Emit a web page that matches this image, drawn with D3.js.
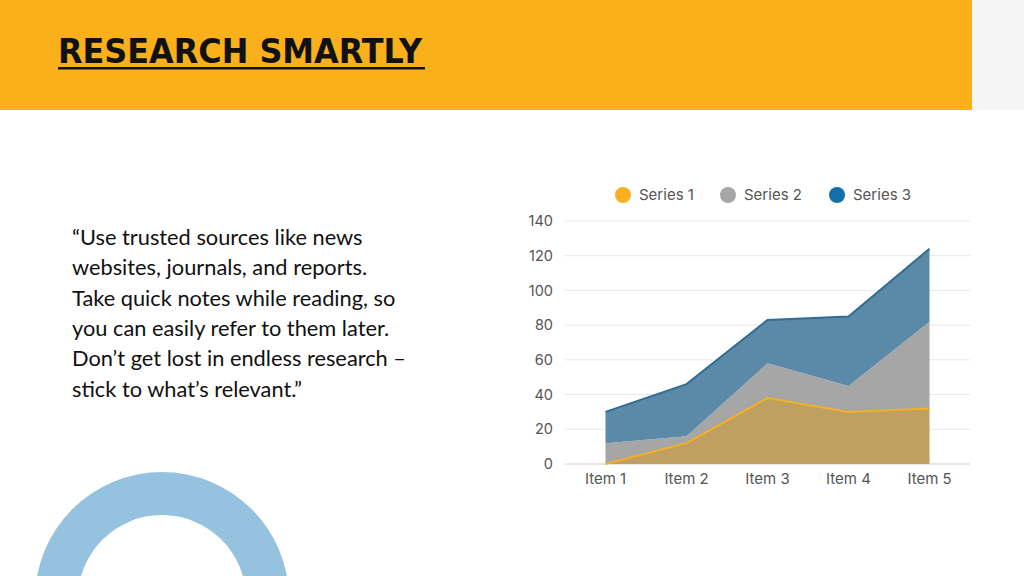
<!DOCTYPE html>
<html><head><meta charset="utf-8">
<script src="https://cdn.jsdelivr.net/npm/d3@7"></script>
<style>body{margin:0;background:#fff;overflow:hidden}svg{display:block}</style>
</head><body>
<svg id="c" width="1024" height="576"></svg>
<script>
const categories = ["Item 1","Item 2","Item 3","Item 4","Item 5"];
const seriesNames = ["Series 1","Series 2","Series 3"];
const series1 = [0, 12, 38, 30, 32];
const series2 = [12, 4, 20, 15, 50];
const series3 = [18, 30, 25, 40, 42];
const yTicks = [0,20,40,60,80,100,120,140];
const quoteLines = ["\u201cUse trusted sources like news","websites, journals, and reports.","Take quick notes while reading, so","you can easily refer to them later.","Don\u2019t get lost in endless research \u2013","stick to what\u2019s relevant.\u201d"];

const legendColors = ["#f9b020","#a6a6a6","#1170aa"];
const fillColors = ["#bfa060","#a6a6a6","#5b8aa8"];
const lineColors = ["#f2b02a","#a6a6a6","#2f6d94"];

const svg = d3.select("#c");
// header
svg.append("rect").attr("x",0).attr("y",0).attr("width",972).attr("height",110).attr("fill","#f9b01a");
svg.append("rect").attr("x",972).attr("y",0).attr("width",52).attr("height",110).attr("fill","#f5f5f5");
svg.append("text").attr("x",58).attr("y",63).attr("font-family","DejaVu Sans").attr("font-weight","bold")
  .attr("font-size",34).attr("textLength",364).attr("lengthAdjust","spacingAndGlyphs").attr("fill","#111").text("RESEARCH SMARTLY");
svg.append("rect").attr("x",58).attr("y",67).attr("width",367).attr("height",2.5).attr("fill","#111");

// ring
const ring = d3.arc().innerRadius(84).outerRadius(127).startAngle(0).endAngle(2*Math.PI);
svg.append("path").attr("d",ring()).attr("transform","translate(162,599)").attr("fill","#95c3df");

// quote
const qt = svg.append("text").attr("font-family","Lato").attr("font-size",21.8).attr("fill","#111");
quoteLines.forEach((l,i)=>qt.append("tspan").attr("x",72).attr("y",245+i*30.3).text(l));

// chart
const x = d3.scaleBand().domain(categories).range([565,970]);
const y = d3.scaleLinear().domain([0,140]).range([464,221]);
const cx = d => x(d)+x.bandwidth()/2;

const g = svg.append("g");
g.selectAll("line.grid").data(yTicks).join("line").attr("class","grid")
  .attr("x1",565).attr("x2",970).attr("y1",d=>y(d)).attr("y2",d=>y(d))
  .attr("stroke",d=>d===0?"#d0d0d0":"#e8e8e8").attr("stroke-width",1);

const rows = categories.map((c,i)=>({cat:c, s0:series1[i], s1:series2[i], s2:series3[i]}));
const stacked = d3.stack().keys(["s0","s1","s2"])(rows);
const area = d3.area().x(d=>cx(d.data.cat)).y0(d=>y(d[0])).y1(d=>y(d[1]));
const line = d3.line().x(d=>cx(d.data.cat)).y(d=>y(d[1]));
g.selectAll("path.area").data(stacked).join("path").attr("class","area")
  .attr("d",area).attr("fill",(d,i)=>fillColors[i]);
g.selectAll("path.top").data(stacked).join("path").attr("class","top")
  .attr("d",line).attr("fill","none").attr("stroke",(d,i)=>lineColors[i]).attr("stroke-width",(d,i)=>i===1?0:2);

// y axis
const ya = svg.append("g").attr("transform","translate(553,0)")
  .call(d3.axisLeft(y).tickValues(yTicks).tickSize(0).tickPadding(0));
ya.select(".domain").remove();
ya.selectAll("text").attr("font-family","Inter").attr("font-size",14.5).attr("fill","#555");

// x axis
const xa = svg.append("g").attr("transform","translate(0,473)")
  .call(d3.axisBottom(x).tickSize(0).tickPadding(0));
xa.select(".domain").remove();
xa.selectAll("text").attr("font-family","Inter").attr("font-size",15).attr("fill","#555").attr("dy","0.71em");

// legend
const legX = [623,728,837];
const leg = svg.append("g").selectAll("g").data(seriesNames).join("g")
  .attr("transform",(d,i)=>`translate(${legX[i]},195)`);
leg.append("circle").attr("r",8).attr("fill",(d,i)=>legendColors[i]);
leg.append("text").attr("x",16).attr("dy","0.35em").attr("font-family","Inter").attr("font-size",15).attr("fill","#555").text(d=>d);
</script>
</body></html>
